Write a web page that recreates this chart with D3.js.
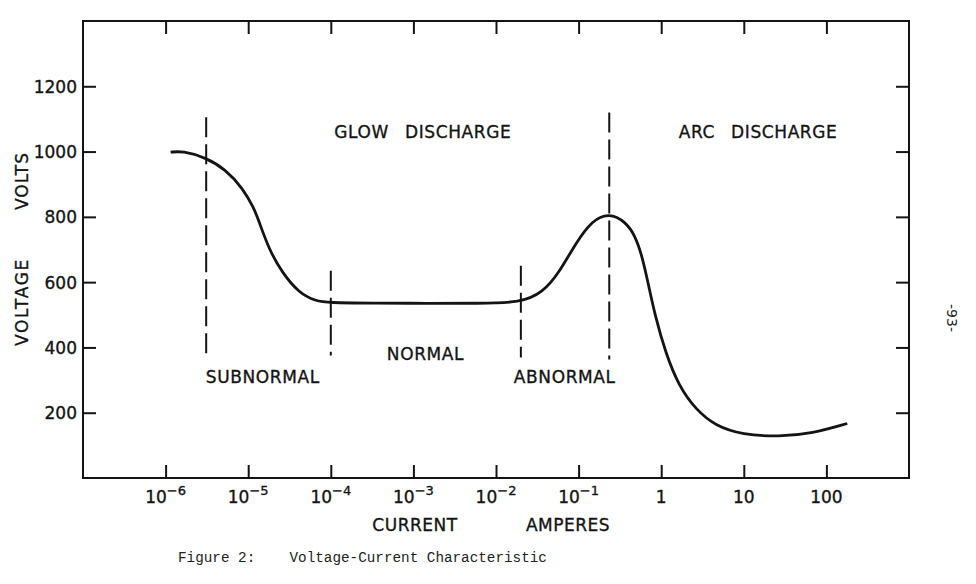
<!DOCTYPE html>
<html>
<head>
<meta charset="utf-8">
<script src="https://cdn.jsdelivr.net/npm/d3@7"></script>
<style>
  body { margin: 0; background: #fff; }
  svg { display: block; }
  .lbl { font-family: "DejaVu Sans", sans-serif; font-size: 17px; fill: #141414; stroke: #141414; stroke-width: 0.35px; }
</style>
</head>
<body>
<svg width="976" height="584"></svg>
<script>
// voltage-current curve (amperes, volts)
var currents = [1.15e-6, 1.6e-6, 3.05e-6, 5.35e-6, 8.5e-6, 1.17e-5, 1.35e-5, 1.79e-5, 2.59e-5,
	4.12e-5, 6.56e-5, 9.5e-5, 3e-4, 1.5e-3, 6.2e-3, 0.0199, 0.0364, 0.058, 0.0923, 0.147,
	0.233, 0.372, 0.482, 0.586, 0.692, 0.841, 1.13, 1.64, 2.62, 4.57, 9.6, 26.7, 67.5, 179];
var volts = [998, 1002, 982, 945, 889, 828, 786, 700, 628,
	567, 542, 537, 536, 535, 535, 537, 567, 628, 720, 790,
	812, 785, 743, 681, 599, 498, 383, 281, 210, 159, 133, 126, 136, 167];

var decades = [1e-6, 1e-5, 1e-4, 1e-3, 1e-2, 1e-1, 1, 10, 100];
var tickBase = ["10", "10", "10", "10", "10", "10", "1", "10", "100"];
var tickExp = ["-6", "-5", "-4", "-3", "-2", "-1", "", "", ""];
var voltTicks = [200, 400, 600, 800, 1000, 1200];

// dashed region boundaries
var bounds = [3.1e-6, 1e-4, 0.02, 0.235];
var boundTop = [1105, 635, 650, 1120];
var boundBottom = [378, 375, 369, 363];

var regionNames = ["GLOW DISCHARGE", "ARC DISCHARGE", "SUBNORMAL", "NORMAL", "ABNORMAL"];
var regionI = [1.3e-3, 14.9, 1.5e-5, 1.4e-3, 0.068];
var regionV = [1043, 1043, 292, 360, 292];

(function(){
	var svg = d3.select("svg");
	var ink = "#141414";

	var x = d3.scaleLog().domain([1e-7, 1e3]).range([83, 909]),
		y = d3.scaleLinear().domain([0, 1400]).range([478, 21]);

	// frame
	svg.append("rect")
		.attr("x", x.range()[0]).attr("y", y.range()[1])
		.attr("width", x.range()[1] - x.range()[0])
		.attr("height", y.range()[0] - y.range()[1])
		.attr("fill", "none").attr("stroke", ink).attr("stroke-width", 2);

	function styleAxis(g){
		g.select(".domain").remove();
		g.selectAll(".tick line").attr("stroke", ink).attr("stroke-width", 2);
	}

	svg.append("g")
		.attr("transform", "translate(0," + y.range()[0] + ")")
		.call(d3.axisBottom(x).tickValues(decades).tickSize(-13).tickFormat(""))
		.call(styleAxis);
	svg.append("g")
		.attr("transform", "translate(0," + y.range()[1] + ")")
		.call(d3.axisTop(x).tickValues(decades).tickSize(-13).tickFormat(""))
		.call(styleAxis);
	svg.append("g")
		.attr("transform", "translate(" + x.range()[0] + ",0)")
		.call(d3.axisLeft(y).tickValues(voltTicks).tickSize(-13).tickPadding(6).tickFormat(d3.format("d")))
		.call(styleAxis)
		.selectAll("text")
			.attr("class", "lbl")
			.attr("fill", ink)
			.attr("dy", "0.36em");
	svg.append("g")
		.attr("transform", "translate(" + x.range()[1] + ",0)")
		.call(d3.axisRight(y).tickValues(voltTicks).tickSize(-13).tickFormat(""))
		.call(styleAxis);

	// x tick labels with superscript exponents
	var xl = svg.append("g").selectAll("text")
		.data(decades)
		.enter().append("text")
			.attr("class", "lbl")
			.attr("x", function(d){ return x(d); })
			.attr("y", 503)
			.attr("text-anchor", "middle");
	xl.append("tspan").text(function(d, i){ return tickBase[i]; });
	xl.append("tspan")
		.attr("dy", -8)
		.style("font-size", "13px")
		.text(function(d, i){ return tickExp[i] ? "\u2212" + tickExp[i].slice(1) : ""; });

	// curve (b-spline smooths the hand-read points)
	var pts = currents.map(function(c, i){ return [c, volts[i]]; });
	var line = d3.line()
		.x(function(d){ return x(d[0]); })
		.y(function(d){ return y(d[1]); })
		.curve(d3.curveBasis);
	svg.append("path")
		.datum(pts)
		.attr("d", line)
		.attr("fill", "none")
		.attr("stroke", ink)
		.attr("stroke-width", 2.8);

	// dashed boundaries
	svg.selectAll(".bound")
		.data(bounds)
		.enter().append("line")
			.attr("class", "bound")
			.attr("x1", function(d){ return x(d); })
			.attr("x2", function(d){ return x(d); })
			.attr("y1", function(d, i){ return y(boundTop[i]); })
			.attr("y2", function(d, i){ return y(boundBottom[i]); })
			.attr("stroke", ink)
			.attr("stroke-width", 2)
			.attr("stroke-dasharray", "20,7");

	// region labels
	svg.selectAll(".region")
		.data(regionNames)
		.enter().append("text")
			.attr("class", "lbl region")
			.attr("x", function(d, i){ return x(regionI[i]); })
			.attr("y", function(d, i){ return y(regionV[i]); })
			.attr("text-anchor", "middle")
			.style("letter-spacing", "0.6px")
			.style("word-spacing", "10px")
			.text(function(d){ return d; });

	// axis titles
	svg.append("text").attr("class", "lbl")
		.attr("x", 415).attr("y", 531).attr("text-anchor", "middle")
		.style("letter-spacing", "0.5px")
		.text("CURRENT");
	svg.append("text").attr("class", "lbl")
		.attr("x", 568).attr("y", 531).attr("text-anchor", "middle")
		.style("letter-spacing", "0.5px")
		.text("AMPERES");
	svg.append("text").attr("class", "lbl")
		.attr("transform", "translate(28,181) rotate(-90)")
		.attr("text-anchor", "middle")
		.style("letter-spacing", "1px")
		.text("VOLTS");
	svg.append("text").attr("class", "lbl")
		.attr("transform", "translate(28,302) rotate(-90)")
		.attr("text-anchor", "middle")
		.style("letter-spacing", "1.7px")
		.text("VOLTAGE");

	// caption and page number
	svg.append("text")
		.attr("x", 178).attr("y", 562)
		.attr("xml:space", "preserve")
		.style("font-family", "'Liberation Mono', 'DejaVu Sans Mono', monospace")
		.style("font-size", "14.3px")
		.attr("fill", "#222")
		.text("Figure 2:    Voltage-Current Characteristic");
	svg.append("text")
		.attr("transform", "translate(947,318) rotate(90)")
		.attr("text-anchor", "middle")
		.style("font-family", "'DejaVu Sans', sans-serif")
		.style("font-size", "14px")
		.attr("fill", "#222")
		.text("-93-");
})();
</script>
</body>
</html>
